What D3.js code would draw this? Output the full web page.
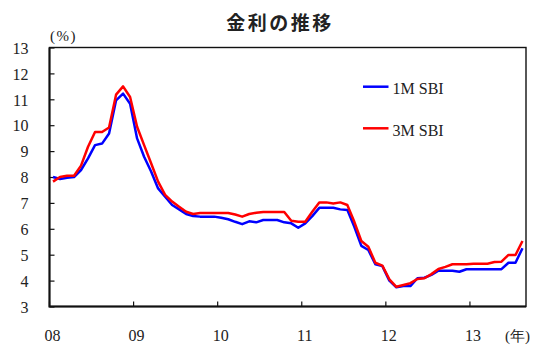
<!DOCTYPE html>
<html>
<head>
<meta charset="utf-8">
<script src="https://cdn.jsdelivr.net/npm/d3@7/dist/d3.min.js"></script>
<style>
  html, body { margin: 0; padding: 0; background: #fff; }
  svg { display: block; }
  .num { font-family: "Liberation Serif", "Times New Roman", serif; font-size: 16px; fill: #222; }
</style>
</head>
<body>
<svg id="chart" width="536" height="345"></svg>
<script>
// Monthly SBI rates, Jan 2008 – Aug 2013 (%)
const months = d3.timeMonths(new Date(2008, 0, 1), new Date(2013, 8, 1));
const sbi1m = [
  8.00, 7.92, 7.97, 8.00, 8.27, 8.72, 9.23, 9.29, 9.68, 10.96, 11.22, 10.83,
  9.49, 8.78, 8.21, 7.56, 7.24, 6.92, 6.75, 6.57, 6.49, 6.47, 6.47, 6.47,
  6.43, 6.37, 6.27, 6.18, 6.29, 6.25, 6.34, 6.34, 6.34, 6.25, 6.21, 6.04,
  6.21, 6.49, 6.81, 6.81, 6.81, 6.75, 6.73, 6.08, 5.34, 5.18, 4.63, 4.56,
  4.00, 3.74, 3.79, 3.79, 4.09, 4.11, 4.22, 4.38, 4.38, 4.38, 4.34, 4.44,
  4.44, 4.44, 4.44, 4.44, 4.44, 4.69, 4.69, 5.25
];
const sbi3m = [
  7.82, 8.00, 8.05, 8.05, 8.44, 9.17, 9.74, 9.74, 9.91, 11.18, 11.50, 11.09,
  9.94, 9.23, 8.53, 7.82, 7.31, 7.05, 6.85, 6.66, 6.57, 6.61, 6.61, 6.61,
  6.61, 6.61, 6.55, 6.47, 6.57, 6.62, 6.65, 6.65, 6.65, 6.65, 6.31, 6.27,
  6.27, 6.66, 7.02, 7.02, 6.98, 7.02, 6.92, 6.27, 5.53, 5.31, 4.69, 4.58,
  4.05, 3.76, 3.83, 3.90, 4.06, 4.09, 4.25, 4.45, 4.53, 4.63, 4.63, 4.63,
  4.65, 4.65, 4.65, 4.72, 4.73, 4.99, 4.99, 5.53
];
const yearLabels = ["08", "09", "10", "11", "12", "13"];
const yTicks = [3, 4, 5, 6, 7, 8, 9, 10, 11, 12, 13];
const seriesNames = ["1M SBI", "3M SBI"];
const seriesColors = ["#0000ff", "#ff0000"];

const svg = d3.select("#chart");
const plotL = 49.5, plotR = 526, plotT = 47.5, plotB = 306.5;

const x = d3.scaleBand().domain(months.map((d, i) => i)).range([plotL, plotR]).paddingInner(0).paddingOuter(0);
const y = d3.scaleLinear().domain([3, 13]).range([plotB, plotT]);
const cx = i => x(i) + x.bandwidth() / 2;

// title
svg.append("text")
  .attr("x", 280).attr("y", 30)
  .attr("text-anchor", "middle")
  .style("font-family", "'Noto Sans CJK JP', sans-serif")
  .style("font-size", "19px").style("font-weight", "bold")
  .style("letter-spacing", "2.5px")
  .attr("fill", "#222")
  .text("金利の推移");

// unit labels
svg.append("text").attr("class", "num").attr("x", 50).attr("y", 41)
  .style("font-size", "15px").style("letter-spacing", "1.5px").text("(%)");
svg.append("text").attr("class", "num").attr("x", 505).attr("y", 340.5)
  .style("font-size", "15px").text("(年)");

// y axis (ticks point inward)
const yAxis = d3.axisLeft(y).tickValues(yTicks).tickSizeInner(-5).tickSizeOuter(0).tickPadding(21);
const gy = svg.append("g").attr("transform", `translate(${plotL},0)`).call(yAxis);
gy.select(".domain").remove();
gy.selectAll(".tick line").attr("stroke", "#111").attr("stroke-width", 1.2);
gy.selectAll(".tick text").attr("class", "num").attr("dy", "0.36em").attr("font-family", null).attr("font-size", null);

// x axis: year boundaries with inward ticks
const janIdx = months.map((d, i) => i).filter(i => months[i].getMonth() === 0);
const xAxis = d3.axisBottom(x).tickValues(janIdx).tickSizeInner(-5).tickSizeOuter(0)
  .tickFormat((d, k) => yearLabels[k]);
const gx = svg.append("g").attr("transform", `translate(0,${plotB})`).call(xAxis);
gx.select(".domain").remove();
gx.selectAll(".tick").attr("transform", d => `translate(${x(d)},0)`);
gx.selectAll(".tick line").attr("stroke", "#111").attr("stroke-width", 1.2);
gx.selectAll(".tick text").attr("class", "num").attr("font-family", null).attr("font-size", null)
  .attr("y", 34).attr("dy", 0).attr("x", 3);

// plot frame
svg.append("rect").attr("x", plotL).attr("y", plotT)
  .attr("width", plotR - plotL).attr("height", plotB - plotT)
  .attr("fill", "none").attr("stroke", "#111").attr("stroke-width", 1.4);
svg.append("path")
  .attr("d", `M${plotL},${plotT}V${plotB}H${plotR}`)
  .attr("fill", "none").attr("stroke", "#111").attr("stroke-width", 2);

// series lines
const line = d3.line().x((d, i) => cx(i)).y(d => y(d));
[sbi1m, sbi3m].forEach((vals, k) => {
  svg.append("path").datum(vals)
    .attr("d", line)
    .attr("fill", "none")
    .attr("stroke", seriesColors[k])
    .attr("stroke-width", 2.5)
    .attr("stroke-linejoin", "round");
});

// legend
const legend = svg.append("g");
seriesNames.forEach((name, k) => {
  const ly = 86.7 + k * 41.6;
  legend.append("line").attr("x1", 363).attr("x2", 388.5).attr("y1", ly).attr("y2", ly)
    .attr("stroke", seriesColors[k]).attr("stroke-width", 2.5);
  legend.append("text").attr("class", "num").attr("x", 392.5).attr("y", ly + 7.4).text(name);
});
</script>
</body>
</html>
